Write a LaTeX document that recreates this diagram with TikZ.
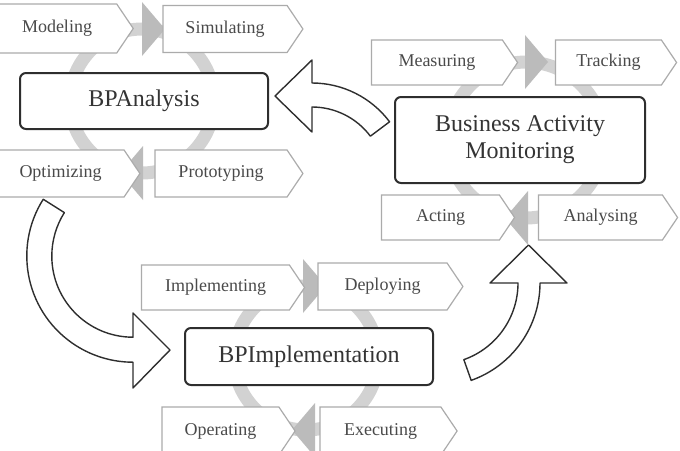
\documentclass[tikz,border=0pt]{standalone}
\usepackage{fontspec}
\setmainfont{Liberation Serif}
\usetikzlibrary{shapes.symbols}
\definecolor{ringgray}{HTML}{D2D2D2}
\definecolor{headgray}{HTML}{BBBBBB}
\definecolor{taggray}{HTML}{ABABAB}
\definecolor{textgray}{HTML}{4A4A4A}
\definecolor{boxline}{HTML}{2E2E2E}

\begin{document}
\begin{tikzpicture}[
    x=1pt, y=-1pt,
    box/.style={rectangle, draw=boxline, line width=2pt, rounded corners=6pt, fill=white, minimum width=248pt, minimum height=56pt, align=center, text=textgray!70!black, font=\fontsize{24}{27}\selectfont},
    tag/.style={signal, signal to=east, signal from=nowhere, signal pointer angle=112, draw=taggray, line width=1.2pt, fill=white, minimum height=47pt, inner sep=0pt, xshift=-8pt, text=textgray, font=\fontsize{18}{20}\selectfont},
    ring/.style={draw=ringgray, line width=13pt},
    ringhead/.style={fill=headgray},
    bigarrow/.style={draw=boxline, line width=1.4pt, fill=white, line join=round}
]
    \useasboundingbox (0,0) rectangle (680,450);

    % Cycles
    \draw[ring] (142,101) circle[radius=72];
    \fill[ringhead] (142,2) -- (165,29) -- (142,56) -- cycle;
    \fill[ringhead] (143,146) -- (120,173) -- (143,200) -- cycle;
    \draw[ring] (526,140) circle[radius=78];
    \fill[ringhead] (525,35) -- (548,62) -- (525,89) -- cycle;
    \fill[ringhead] (528,191) -- (505,218) -- (528,245) -- cycle;
    \draw[ring] (306,358) circle[radius=72];
    \fill[ringhead] (303,259) -- (326,286) -- (303,313) -- cycle;
    \fill[ringhead] (315,403) -- (292,430) -- (315,457) -- cycle;

    % Steps
    \node[tag, minimum width=136pt, minimum height=49pt] (model) at (65,28.5) {Modeling};
    \node[tag, minimum width=140pt] (simul) at (233,29) {Simulating};
    \node[tag, minimum width=143pt] (optim) at (68.5,173.5) {Optimizing};
    \node[tag, minimum width=148pt] (proto) at (229,173.5) {Prototyping};
    \node[tag, minimum width=146pt, minimum height=45pt] (measure) at (445,62.5) {Measuring};
    \node[tag, minimum width=121pt, minimum height=45pt] (track) at (616.5,62.5) {Tracking};
    \node[tag, minimum width=133pt, minimum height=45pt] (act) at (448.5,217.5) {Acting};
    \node[tag, minimum width=139pt, minimum height=45pt] (analyse) at (608.5,217.5) {Analysing};
    \node[tag, minimum width=163pt, minimum height=45pt] (implement) at (223.5,287.5) {Implementing};
    \node[tag, minimum width=145pt] (deploy) at (390.5,286.5) {Deploying};
    \node[tag, minimum width=133pt, minimum height=48pt] (operate) at (228.5,431) {Operating};
    \node[tag, minimum width=137pt, minimum height=48pt] (execute) at (388.5,431) {Executing};

    % Phases
    \node[box] (analysis) at (144,101) {BPAnalysis};
    \node[box, minimum width=250pt, minimum height=86pt] (bam) at (520,140) {Business Activity\\Monitoring};
    \node[box, minimum height=57pt] (impl) at (309,356.5) {BPImplementation};

    % Transitions
    \draw[bigarrow] (312,83) arc[start angle=-90, end angle=-36.9, radius=97]
        -- ++(-36.9:-24) arc[start angle=-36.9, end angle=-90, radius=73]
        -- (312,132) -- (275,96) -- (312,60) -- cycle;
    \draw[bigarrow] (133,256) ++(212.3:106.2) arc[start angle=212.3, end angle=90, radius=106.2]
        -- (133,388) -- (170,350) -- (133,313) -- (133,337.2)
        arc[start angle=90, end angle=212.3, radius=81.2] -- cycle;
    \draw[bigarrow] (518,283) -- (490,283) -- (528.5,245) -- (567,283) -- (540,283)
        arc[start angle=0, end angle=70.5, radius=103.3] -- ++(70.5:-22)
        arc[start angle=70.5, end angle=0, radius=81.3] -- cycle;
\end{tikzpicture}
\end{document}
